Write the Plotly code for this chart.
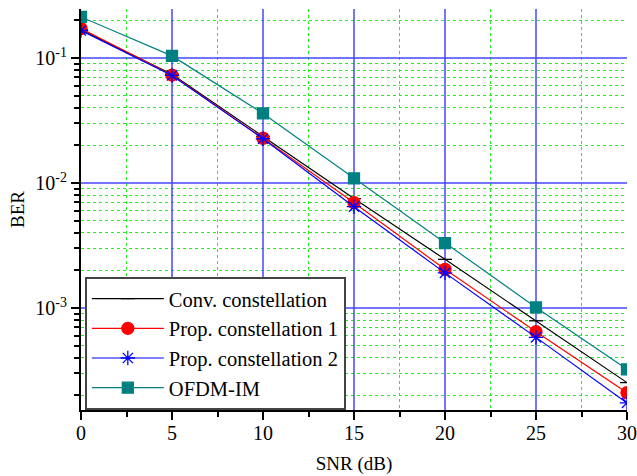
import plotly.graph_objects as go

snr = [0, 5, 10, 15, 20, 25, 30]
conv = [0.168, 0.074, 0.0236, 0.0075, 0.00245, 0.00079, 0.000253]
prop1 = [0.172, 0.073, 0.0228, 0.00695, 0.00204, 0.000646, 0.00021]
prop2 = [0.166, 0.0725, 0.0226, 0.00646, 0.00191, 0.000582, 0.000174]
ofdm = [0.213, 0.104, 0.036, 0.0109, 0.0033, 0.00101, 0.000323]

names = ["Conv. constellation", "Prop. constellation 1", "Prop. constellation 2", "OFDM-IM"]
colors = ["#000000", "#ff0000", "#0000ff", "#008080"]
symbols = ["line-ew-open", "circle", "asterisk-open", "square"]
sizes = [10, 12, 12, 11]
series = [conv, prop1, prop2, ofdm]

major_y = [1e-3, 1e-2, 1e-1]
major_y_text = ["10<sup>-3</sup>", "10<sup>-2</sup>", "10<sup>-1</sup>"]
minor_y = [k * 10.0 ** e for e in (-4, -3, -2, -1) for k in range(2, 10)]

fig = go.Figure()
for name, col, sym, sz, ys in zip(names, colors, symbols, sizes, series):
    fig.add_trace(go.Scatter(
        x=snr, y=ys, name=name, mode="lines+markers",
        line=dict(color=col, width=1.2),
        marker=dict(symbol=sym, size=sz, color=col,
                    line=dict(color=col, width=1.3)),
        cliponaxis=True,
    ))

font = "Liberation Serif, Times New Roman, serif"
grid_major = "rgba(70,70,255,0.75)"
grid_minor = "#22ee22"
fig.update_layout(
    width=637, height=476,
    margin=dict(l=81, r=10, t=9, b=66),
    paper_bgcolor="white", plot_bgcolor="white",
    font=dict(family=font, size=19, color="black"),
    showlegend=True,
    legend=dict(x=0.007, y=0.332, xanchor="left", yanchor="top",
                bgcolor="white", bordercolor="#444444", borderwidth=2,
                font=dict(size=20.5, family=font), tracegroupgap=0,
                itemwidth=72),
)
fig.update_xaxes(
    range=[0, 30], tickvals=[0, 5, 10, 15, 20, 25, 30],
    automargin=False,
    showline=True, linecolor="black", linewidth=2,
    ticks="outside", ticklen=8, tickwidth=2, tickcolor="black",
    tickfont=dict(size=20), ticklabelstandoff=-4,
    showgrid=True, gridcolor=grid_major, gridwidth=1.5,
    zeroline=False, mirror=False,
    title=dict(text="SNR (dB)", font=dict(size=19), standoff=14),
    minor=dict(tickvals=[2.5, 7.5, 12.5, 17.5, 22.5, 27.5], ticks="outside",
               ticklen=5, tickwidth=2, tickcolor="black",
               showgrid=True, gridcolor=grid_minor, griddash="dot", gridwidth=1.2),
)
fig.update_yaxes(
    type="log", range=[-3.816, -0.608],
    automargin=False,
    tickvals=major_y, ticktext=major_y_text,
    showline=True, linecolor="black", linewidth=2,
    ticks="outside", ticklen=8, tickwidth=2, tickcolor="black",
    tickfont=dict(size=20),
    showgrid=True, gridcolor=grid_major, gridwidth=1.5,
    zeroline=False, mirror=False,
    title=dict(text="BER", font=dict(size=19), standoff=6),
    minor=dict(tickvals=minor_y, ticks="outside", ticklen=5, tickwidth=2,
               tickcolor="black", showgrid=True, gridcolor=grid_minor,
               griddash="dot", gridwidth=1.2),
)

fig.write_html("out.html")
